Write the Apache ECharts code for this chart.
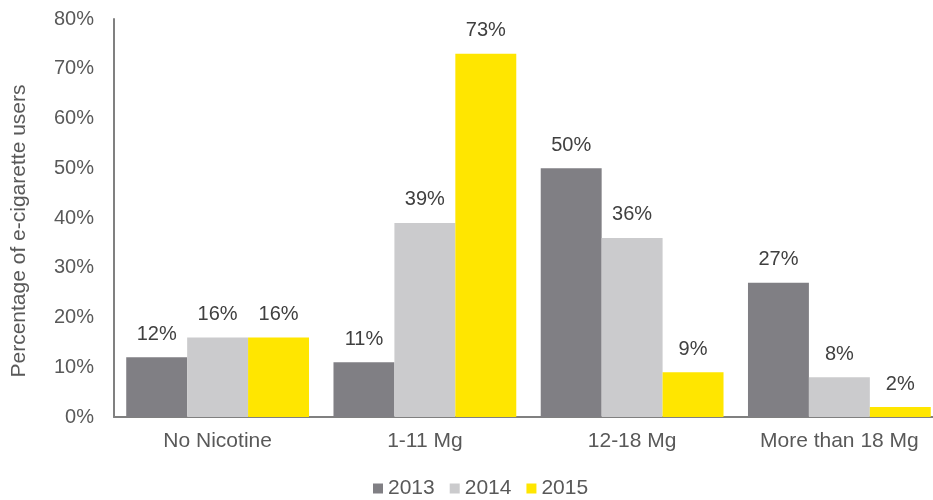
<!DOCTYPE html>
<html>
<head>
<meta charset="utf-8">
<script src="https://cdn.jsdelivr.net/npm/echarts@6/dist/echarts.min.js"></script>
<style>
  html, body { margin: 0; padding: 0; background: #fff; overflow: hidden; width: 933px; height: 500px; }
  /* canvas is a little wider than the page so the last bar group sits flush with the edge */
  #chart { width: 943px; height: 500px; }
</style>
</head>
<body>
<div id="chart"></div>
<script>
// Nicotine strength categories
const categories = ['No Nicotine', '1-11 Mg', '12-18 Mg', 'More than 18 Mg'];
// Share of e-cigarette users (%) per year
const values2013 = [12, 11, 50, 27];
const values2014 = [16, 39, 36, 8];
const values2015 = [16, 73, 9, 2];
const years = ['2013', '2014', '2015'];
const yearColors = ['#807f84', '#cbcbcd', '#ffe600'];

const font = 'Liberation Sans, Arial, sans-serif';
const chart = echarts.init(document.getElementById('chart'));

const seriesData = [values2013, values2014, values2015];

chart.setOption({
  animation: false,
  textStyle: { fontFamily: font },
  grid: { left: 114, right: 0, top: 19, bottom: 83 },
  legend: {
    top: 473,
    left: 368,
    itemWidth: 10,
    itemHeight: 10,
    itemGap: 15,
    icon: 'rect',
    textStyle: { fontFamily: font, fontSize: 21, color: '#595959' },
    data: years
  },
  xAxis: {
    type: 'category',
    data: categories,
    axisLine: { lineStyle: { color: '#808080', width: 2 } },
    axisTick: { show: false },
    axisLabel: { interval: 0, fontFamily: font, fontSize: 21, color: '#595959', margin: 14 }
  },
  yAxis: {
    type: 'value',
    min: 0,
    max: 80,
    interval: 10,
    name: 'Percentage of e-cigarette users',
    nameLocation: 'middle',
    nameGap: 84,
    nameTextStyle: { fontFamily: font, fontSize: 21, color: '#595959', padding: [0, 26, 0, 0] },
    axisLine: { show: true, lineStyle: { color: '#808080', width: 2 } },
    axisTick: { show: false },
    splitLine: { show: false },
    axisLabel: { fontFamily: font, fontSize: 20, color: '#595959', margin: 20, formatter: '{value}%' }
  },
  series: years.map((y, i) => ({
    name: y,
    type: 'bar',
    data: seriesData[i],
    barGap: '0%',
    barCategoryGap: '11.8%',
    itemStyle: { color: yearColors[i] },
    label: {
      show: true,
      position: 'top',
      distance: 13,
      fontFamily: font,
      fontSize: 20,
      color: '#404040',
      formatter: p => p.value + '%'
    }
  }))
});
</script>
</body>
</html>
